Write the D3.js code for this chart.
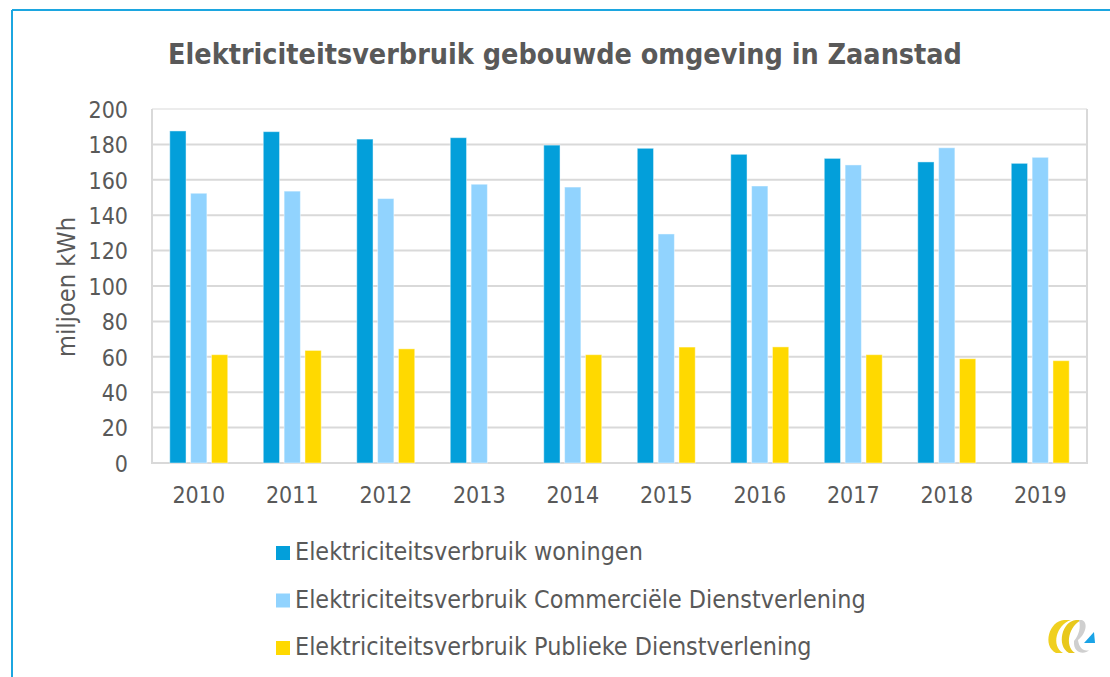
<!DOCTYPE html>
<html>
<head>
<meta charset="utf-8">
<script src="https://cdn.jsdelivr.net/npm/d3@7"></script>
<style>
  body { margin: 0; background: #fff; }
  svg text { font-family: "DejaVu Sans Condensed", "DejaVu Sans", sans-serif; font-stretch: condensed; fill: #595959; }
</style>
</head>
<body>
<div id="chart"></div>
<script>
var years = ["2010","2011","2012","2013","2014","2015","2016","2017","2018","2019"];
var woningen = [187.6, 187.2, 183.0, 183.8, 179.6, 177.8, 174.4, 172.1, 170.1, 169.3];
var commercieel = [152.4, 153.6, 149.4, 157.5, 155.9, 129.4, 156.5, 168.4, 178.1, 172.7];
var publiek = [61.2, 63.6, 64.5, null, 61.2, 65.5, 65.6, 61.2, 58.9, 57.8];
var yTicks = [0, 20, 40, 60, 80, 100, 120, 140, 160, 180, 200];
var seriesNames = ["Elektriciteitsverbruik woningen", "Elektriciteitsverbruik Commerciële Dienstverlening", "Elektriciteitsverbruik Publieke Dienstverlening"];
var colors = ["#039fda", "#91d3fe", "#ffd900"];

var W = 1110, H = 677;
var svg = d3.select("#chart").append("svg").attr("width", W).attr("height", H);

// fit a text's font size so it is as wide as the reference
function fitWidth(sel, size, target) {
  sel.style("font-size", size + "px");
  var w = sel.node().getComputedTextLength();
  sel.style("font-size", (size * target / w).toFixed(2) + "px");
  return size * target / w;
}

// blue frame lines
svg.append("line").attr("x1", 12).attr("x2", W).attr("y1", 10).attr("y2", 10)
  .attr("stroke", "#1ca6e0").attr("stroke-width", 2);
svg.append("line").attr("x1", 12).attr("x2", 12).attr("y1", 10).attr("y2", H)
  .attr("stroke", "#1ca6e0").attr("stroke-width", 2);

var pLeft = 152, pRight = 1087, pTop = 109, pBottom = 463;

var y = d3.scaleLinear().domain([0, 200]).range([pBottom, pTop]);
var x0 = d3.scaleBand().domain(years).range([pLeft, pRight]).paddingInner(0.38).paddingOuter(0.19);
var x1 = d3.scaleBand().domain([0, 1, 2]).range([0, x0.bandwidth()]).paddingInner(0.22);

// title
var title = svg.append("text").attr("x", 565).attr("y", 64).attr("text-anchor", "middle")
  .style("font-weight", "bold")
  .text("Elektriciteitsverbruik gebouwde omgeving in Zaanstad");
fitWidth(title, 29, 794);

// grid
svg.append("g").selectAll("line").data(yTicks).join("line")
  .attr("x1", pLeft).attr("x2", pRight)
  .attr("y1", function(d){ return y(d); }).attr("y2", function(d){ return y(d); })
  .attr("stroke", function(d){ return d == 200 ? "#ececec" : "#d9d9d9"; })
  .attr("stroke-width", 2);
svg.append("line").attr("x1", pLeft).attr("x2", pLeft).attr("y1", pTop).attr("y2", pBottom + 1)
  .attr("stroke", "#d9d9d9").attr("stroke-width", 2);
svg.append("line").attr("x1", pRight).attr("x2", pRight).attr("y1", pTop).attr("y2", pBottom + 1)
  .attr("stroke", "#d9d9d9").attr("stroke-width", 2);

// bars
var data = years.map(function(yr, i){ return { year: yr, vals: [woningen[i], commercieel[i], publiek[i]] }; });
var groups = svg.append("g").selectAll("g").data(data).join("g")
  .attr("transform", function(d){ return "translate(" + x0(d.year) + ",0)"; });
groups.selectAll("rect")
  .data(function(d){ return d.vals.map(function(v, k){ return { k: k, v: v }; }).filter(function(e){ return e.v != null; }); })
  .join("rect")
  .attr("x", function(d){ return x1(d.k); })
  .attr("width", x1.bandwidth())
  .attr("y", function(d){ return y(d.v); })
  .attr("height", function(d){ return pBottom - y(d.v); })
  .attr("fill", function(d){ return colors[d.k]; })
  .attr("stroke", "rgba(255,255,255,0.45)")
  .attr("stroke-width", 1);

// y axis labels
var yAxis = svg.append("g").attr("transform", "translate(" + pLeft + ",0)")
  .call(d3.axisLeft(y).tickValues(yTicks).tickSize(0).tickPadding(24));
yAxis.select(".domain").remove();
yAxis.selectAll("text").style("font-size", "23px").attr("dy", "0.36em");

// x axis labels
var xAxis = svg.append("g").attr("transform", "translate(0," + pBottom + ")")
  .call(d3.axisBottom(x0).tickSize(0).tickPadding(24));
xAxis.select(".domain").remove();
xAxis.selectAll("text").style("font-size", "23px").attr("dy", "0.71em");

// y title
var yTitle = svg.append("text").attr("transform", "translate(75,287) rotate(-90)")
  .attr("text-anchor", "middle").text("miljoen kWh");
fitWidth(yTitle, 22, 140);

// legend
var legend = svg.append("g").selectAll("g").data(seriesNames).join("g")
  .attr("transform", function(d, i){ return "translate(276," + (546 + i * 47.5) + ")"; });
legend.append("rect").attr("width", 14).attr("height", 14)
  .attr("fill", function(d, i){ return colors[i]; });
var legText = legend.append("text").attr("x", 19).attr("y", 14)
  .text(function(d){ return d; });
var legSize = fitWidth(d3.select(legText.nodes()[1]), 22, 571);
legText.style("font-size", legSize.toFixed(2) + "px");

// logo (rough)
var logo = svg.append("g").attr("transform", "translate(1045,619)");
logo.append("path").attr("d", "M19,1 C4,2 -3,27 11,34 L18,34 C6,27 11,6 26,1 Z").attr("fill", "#f0d020");
logo.append("path").attr("d", "M31,1 C17,2 11,27 24,34 L30,34 C19,27 24,6 37,1 Z").attr("fill", "#e8c81c");
logo.append("path").attr("d", "M37,1 C44,4 40,16 33,21 C34,29 39,33 44,31 C40,36 28,35 29,22 C34,16 36,8 34,1 Z").attr("fill", "#cfcfcf");
logo.append("path").attr("d", "M39,24 L49,13 L50,24 Z").attr("fill", "#1aa3e6");
</script>
</body>
</html>
